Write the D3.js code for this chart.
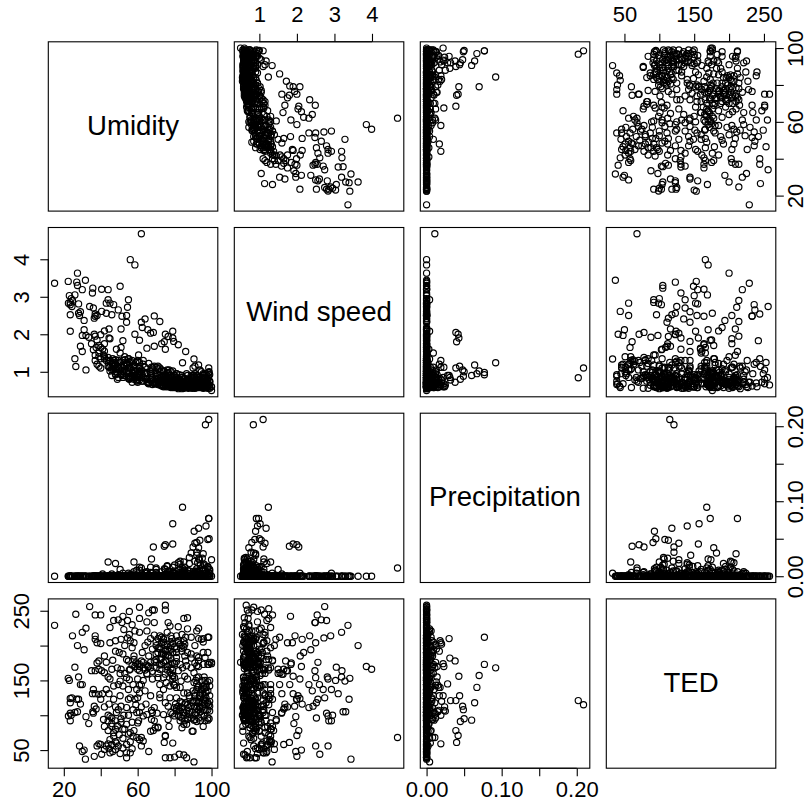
<!DOCTYPE html>
<html>
<head>
<meta charset="utf-8">
<script src="https://cdn.jsdelivr.net/npm/d3@7"></script>
<style>
  html, body { margin: 0; padding: 0; background: #fff; overflow: hidden; }
  text { font-family: "Liberation Sans", Arial, sans-serif; fill: #000; }
</style>
</head>
<body>
<svg id="chart" width="804" height="809"></svg>
<script>
const labels = ["Umidity", "Wind speed", "Precipitation", "TED"]

// values, one row of ten per line, same order in all four arrays
const umidity = [
  15,22.4,23,26,28,29,30,23.5,24.4,27,
  28,23.5,22.5,23.5,26,27.4,23.5,24,26.5,24.7,
  27.4,30,28.5,30,29,31,32,34,37,40,
  37,37,38,40,39,38,35,37,39,31,
  31.7,32,33.5,35.5,37,39,40,36.5,37.5,36,
  35.7,36.5,38,39,40.5,36,46.5,45,47,49.5,
  45,48,42,43,46.5,40.5,42,44,46,49,
  45,47,49.5,41,44.5,47,44.5,42,48,49.5,
  41.5,44,46,48,42,46,48,45,40,42,
  43,46,45,48,49.5,48.5,44,47,50,43,
  52,55.5,51.5,54.5,52.5,58.5,55.5,54.5,56,57,
  51,52,54,56,58.5,60,51,54,50.5,55.5,
  57.5,52,55,59.5,55,56,58.5,51,54,57.5,
  59.5,60.5,54,52,56,57.5,59.5,52,54,54,
  57,56,53,58,50.5,51,55,53,59,57,
  61,61,66,68,69,65,69,65,61,63,
  61,65.5,67,69,61,60,65,68,62,61,
  67,64.5,62,69,63,61,68,69,65,67.5,
  62,61,63,62,66,67,69.5,71,60,64,
  62.5,65.5,69,64,66,68,63,70,67,60,
  75,75,76.5,77.5,72,74,76,78,73,76,
  78,71,74,77,79,70,73,75,78,72,
  75,77.5,71,74,79,72,75.5,77.5,79.5,72,
  77.5,75,76.5,74,76.5,78,77,75,79,75,
  77.5,71,70.5,72,74,76,78,73,71,79,
  72,74,76,78,70,73,75,77,79,71,
  85,87,82,87,81,84,86,82,85,89,
  81,84,87,81,85.5,89,83,86.5,82,85.5,
  80,83.5,87,81,85,87,81,84,80,82,
  84,85.5,87.5,89,81,83,85,86.5,88,89.5,
  82,80,84,85.5,87,85,86.5,84,89.5,80,
  82.5,85,86.5,90.5,83,88,81,86,84,89,
  93,92,98,93,95.5,94.5,91,95.5,98,93,
  96.5,99,100,92,95.5,98,90.5,92,90.5,93,
  95.5,99,92,94.5,97,91,96.5,93,95.5,98,
  91,93.5,96,99,97,92,94.5,98,93,95.5,
  90,94,91,99,96.5,92,95,97,99,91,
  98.5,96.7,84.3,98.5,98.5,79,97,93,90.6,98.7,
  98,93.7,92,91,79,74.4,75,68.5,90,92,
  93,89,95.5,67.5,44,48,58,100,93,83,
  80,50.5,61,75,85.5,96,98,88,65,70,
  44,45,46,47,48,49,50,51,52,53,
  54,55,56,57,58,44.5,46.5,48.5,50.5,52.5,
  55,57,59,61,63,65,67,55.5,58,60,
  62,64,66,68,70,72,74,76,78,80,
  70,72,74,76,78,80,82,84,71,73,
  75,77,79,81,83,85,72.5,74.5,76.5,78.5,
  79,81,83,85,87,89,91,93,95,80.5,
  82.5,84.5,86,88,90,92,94,96,83,87,
  90,92,94,96,98,91.5,93.5,95,97,99,
  91,93,95,97,99,94,96,98,92.5,96.5
]
const windSpeed = [
  3.36,3.41,3.03,3.05,2.81,2.6,1.54,2.08,2.74,3.39,
  2.56,2.52,2.83,2.79,1.35,3.3,2.85,2.95,1.14,2.9,
  3.63,3.19,2.5,1.97,1.68,2.37,1.05,2.74,2.54,1.35,
  1.95,1.44,2.5,1.1,1.7,1.85,1.75,2.48,1.5,2.12,
  3.44,1.97,1.92,3.1,1.3,1.15,1.99,2.43,1.65,1.59,
  3.23,2.0,1.2,1.4,2.61,2.7,1.25,1.3,2.79,2.65,
  1.88,1.2,2.09,2.56,1.35,3.2,1.55,3.19,1.1,1.15,
  2.83,1.05,1.3,1.6,1.9,1.25,2.14,1.75,0.95,1.1,
  1.45,2.92,2.52,1.18,1.35,1.22,0.92,1.28,1.65,1.4,
  2.83,1.05,1.12,1.0,0.85,1.6,1.15,1.3,1.08,1.3,
  1.83,0.95,2.48,1.2,1.0,0.9,1.1,2.72,0.85,1.3,
  2.14,0.9,1.25,3.99,3.85,1.05,1.65,2.5,3.28,0.8,
  1.15,1.02,2.92,0.78,1.35,0.88,2.0,1.12,2.32,0.95,
  0.85,1.45,1.0,1.3,0.82,1.05,0.75,0.95,1.18,0.88,
  0.9,1.1,1.4,0.8,1.25,0.92,1.0,1.15,1.25,0.72,
  0.85,1.25,0.72,1.05,0.68,0.95,2.49,0.8,1.15,0.75,
  1.84,2.12,0.9,0.7,0.95,0.78,1.63,0.85,2.32,1.1,
  2.03,0.82,0.75,1.68,1.0,0.88,1.1,0.72,0.98,0.8,
  4.68,0.78,1.2,1.05,0.68,1.0,0.75,0.9,1.3,2.41,
  2.18,0.7,1.15,0.95,1.22,0.66,0.85,0.7,0.78,1.28,
  0.65,0.8,0.62,0.72,2.34,0.9,0.68,0.6,1.75,0.75,
  0.85,0.72,0.62,1.05,0.7,0.95,0.66,0.78,0.58,1.0,
  1.6,0.68,0.82,0.64,2.08,1.1,0.6,0.9,1.81,0.65,
  0.78,0.88,1.94,1.0,0.62,0.7,0.85,0.72,0.58,0.92,
  0.66,1.15,0.8,0.7,0.85,0.95,1.0,0.76,1.08,0.62,
  0.74,0.6,0.82,0.9,0.88,1.05,0.7,0.6,0.8,0.66,
  0.7,0.6,0.58,0.66,0.75,0.55,1.54,0.62,0.8,0.72,
  0.68,0.58,0.75,0.85,0.6,0.9,0.72,0.62,1.72,0.7,
  0.9,0.6,0.8,0.62,0.56,0.65,0.95,0.72,0.58,0.62,
  0.85,0.6,0.56,0.7,0.78,0.58,0.68,0.95,0.62,0.75,
  0.55,0.66,0.6,0.82,0.58,0.72,0.64,0.9,0.56,0.68,
  0.58,0.62,0.75,1.34,0.65,0.6,0.7,0.58,0.74,0.66,
  0.6,0.72,0.62,0.85,0.58,0.7,0.56,0.8,0.7,0.62,
  0.58,0.75,0.5,0.62,0.95,0.66,0.7,0.58,0.85,0.6,
  0.72,0.56,0.8,0.62,0.68,0.95,0.6,0.7,0.9,0.62,
  0.58,0.66,0.82,0.72,0.6,0.58,1.0,0.7,0.64,0.56,
  0.9,0.62,0.72,0.6,0.76,0.85,0.68,0.58,0.92,0.62,
  1.1,0.84,1.24,0.98,0.92,1.02,0.95,1.18,0.9,1.0,
  0.88,1.05,0.8,1.15,1.9,1.8,2.0,2.05,1.1,0.78,
  0.72,0.85,0.9,1.12,1.3,1.2,1.12,0.6,0.68,0.8,
  0.72,1.5,1.0,0.75,0.65,0.7,0.62,0.6,0.8,0.7,
  1.38,1.02,0.9,1.15,1.32,0.8,1.25,1.05,0.85,1.32,
  1.22,0.82,1.28,0.98,0.86,1.12,1.2,1.08,0.95,1.18,
  1.35,0.85,1.02,0.92,1.3,0.75,0.95,1.25,1.18,0.72,
  0.98,1.12,0.7,0.85,0.68,0.92,1.02,0.68,0.6,0.75,
  1.12,0.66,0.8,1.05,0.72,0.62,0.82,0.7,0.76,0.62,
  0.9,0.74,0.64,0.95,0.7,0.66,0.85,0.7,0.98,0.66,
  0.85,0.6,0.78,0.62,0.9,0.58,0.68,0.78,0.6,0.7,
  0.92,0.58,0.72,0.64,0.8,0.66,0.58,0.7,0.6,0.8,
  0.62,0.9,0.72,0.58,0.8,0.6,0.85,0.66,0.72,0.64,
  0.78,0.58,0.85,0.62,0.74,0.68,0.92,0.56,0.66,0.6
]
const precipitation = [
  0,0,0,0,0,0,0,0,0,0,
  0,0,0,0,0,0,0,0,0,0,
  0,0,0,0,0,0,0,0,0,0,
  0,0,0,0,0,0,0,0,0,0,
  0,0,0,0,0,0,0,0,0,0,
  0,0,0,0,0,0,0,0,0,0,
  0,0,0,0,0,0,0,0,0,0,
  0,0,0,0.003,0,0,0,0,0,0,
  0,0,0,0,0,0,0,0,0,0,
  0,0,0,0,0.002,0,0,0,0,0,
  0,0,0,0,0,0,0.002,0,0,0,
  0,0,0,0,0,0,0,0,0,0,
  0,0,0.004,0,0,0,0,0,0,0,
  0,0,0,0,0,0,0.008,0,0,0,
  0,0,0,0.003,0,0,0,0,0,0,
  0,0,0,0,0,0,0,0.004,0,0,
  0,0,0,0,0,0,0,0,0,0,
  0,0,0.003,0,0,0,0,0,0,0,
  0.011,0,0,0,0,0.005,0,0,0,0,
  0,0,0,0,0.002,0,0,0,0,0,
  0,0,0,0,0,0,0.003,0,0,0,
  0,0,0,0.006,0,0,0,0,0,0,
  0,0,0,0,0.004,0,0,0.002,0,0,
  0,0,0,0,0,0,0,0,0.005,0,
  0,0,0.003,0,0,0,0,0,0,0.006,
  0,0,0,0,0,0,0.003,0,0,0,
  0,0,0,0.004,0,0,0,0,0.007,0,
  0,0.003,0,0,0.008,0,0,0,0,0.005,
  0.004,0,0,0.006,0,0,0.002,0,0,0.003,
  0,0.005,0,0,0,0.009,0,0,0.003,0,
  0,0,0.006,0,0,0.003,0,0,0.002,0,
  0,0,0,0.004,0,0.007,0,0,0.005,0,
  0,0.006,0,0,0.003,0,0,0.008,0,0,
  0,0.004,0,0,0.009,0,0,0.003,0,0.006,
  0,0,0.01,0,0,0.004,0,0,0.007,0,
  0,0.008,0,0,0.004,0,0,0.012,0,0,
  0,0,0.007,0,0,0.005,0,0,0.003,0,
  0.209,0.202,0.092,0.077,0.077,0.07,0.067,0.064,0.06,0.05,
  0.049,0.048,0.045,0.044,0.043,0.04,0.042,0.039,0.039,0.032,
  0.038,0.031,0.03,0.023,0.019,0.017,0.019,0.022,0.023,0.016,
  0.015,0.009,0.012,0.009,0.012,0.016,0.01,0.017,0.006,0.005,
  0,0,0.003,0,0,0,0,0,0.004,0,
  0,0,0,0,0.006,0,0,0,0,0,
  0,0,0,0.008,0,0,0.012,0,0,0,
  0,0.005,0,0,0.011,0,0,0.014,0,0,
  0.009,0,0,0.013,0,0,0.018,0,0,0.006,
  0,0.007,0,0,0.02,0,0,0.01,0,0,
  0.012,0,0,0.019,0,0,0.006,0,0.024,0,
  0,0.01,0,0.025,0,0,0.015,0,0,0.008,
  0,0.028,0,0,0.013,0,0.022,0,0,0.009,
  0.02,0,0.011,0,0.007,0,0.014,0,0.018,0
]
const ted = [
  229,153,150,169,155,144,144,124,125,123,
  123,118,99,103,104,105,92,100,245,214,
  200,219,56,48,116,194,225,256,244,244,
  214,209,204,203,178,175,164,164,166,50,
  37,98,88,131,131,130,123,113,109,103,
  105,41,56,59,44,137,253,226,236,237,
  204,207,185,176,179,164,161,155,166,168,
  152,142,144,131,131,123,116,112,112,108,
  94,92,96,92,84,84,80,65,58,51,
  56,58,46,51,56,104,100,70,190,137,
  242,249,233,236,223,221,216,211,207,197,
  209,188,180,166,170,166,166,154,149,151,
  144,142,137,137,123,125,123,113,111,108,
  104,92,87,80,75,70,68,53,46,39,
  52,46,200,185,128,95,100,160,115,230,
  255,239,247,251,251,234,233,221,219,176,
  173,170,168,178,164,152,159,152,144,132,
  128,116,112,111,99,104,104,92,101,94,
  68,65,63,56,48,77,82,83,89,135,
  190,205,215,200,185,195,150,200,210,125,
  258,251,233,228,214,209,219,214,204,202,
  200,190,188,185,190,176,173,178,173,166,
  159,161,154,154,152,144,147,142,144,125,
  125,118,113,101,94,104,84,70,60,39,
  39,82,103,130,137,165,195,188,160,175,
  195,205,170,182,188,182,192,172,165,210,
  239,240,227,224,214,216,212,204,207,212,
  195,192,190,183,185,188,173,171,164,156,
  154,149,152,140,132,132,125,118,111,113,
  111,116,111,113,106,106,104,106,101,104,
  100,99,96,92,96,87,87,82,77,40,
  44,43,39,33,120,125,177,178,200,168,
  225,221,212,210,205,209,200,190,190,183,
  183,176,176,171,173,173,161,154,147,142,
  142,142,137,137,140,132,128,120,123,118,
  113,111,116,113,108,104,101,96,96,84,
  77,92,94,106,92,185,150,125,150,175,
  115,121,168,173,212,157,140,118,93,95,
  108,113,91,128,156,61,71,78,121,121,
  178,182,210,107,59,192,204,174,170,140,
  143,160,143,194,202,107,93,128,160,180,
  78,98,88,75,62,85,72,90,67,80,
  58,73,62,90,78,52,48,60,45,100,
  178,172,175,170,168,172,176,165,180,174,
  178,165,170,163,168,172,176,170,167,174,
  205,198,210,195,205,198,207,196,196,212,
  185,192,203,190,202,198,180,200,186,210,
  102,110,98,100,115,96,100,108,112,116,
  108,104,118,106,118,110,105,99,92,94,
  135,145,132,138,148,150,128,130,133,128,
  120,155,118,145,120,125,155,135,140,150
]

const columns = [umidity, windSpeed, precipitation, ted]
const tickValues = [
  [20, 40, 60, 80, 100],
  [1, 2, 3, 4],
  [0, 0.05, 0.1, 0.15, 0.2],
  [50, 100, 150, 200, 250]
]
const tickLabels = [
  { 20: "20", 60: "60", 100: "100" },
  { 1: "1", 2: "2", 3: "3", 4: "4" },
  { 0: "0.00", 0.1: "0.10", 0.2: "0.20" },
  { 50: "50", 150: "150", 250: "250" }
]

const cellW = 169.5, cellH = 169.3
const cellX = i => 48.3 + i * 186
const cellY = i => 41.8 + i * 185.7

// R style limits, range plus 4% each side
const limits = columns.map(c => {
  const [lo, hi] = d3.extent(c)
  const pad = (hi - lo) * 0.04
  return [lo - pad, hi + pad]
})
const xScales = limits.map(d => d3.scaleLinear().domain(d).range([0, cellW]))
const yScales = limits.map(d => d3.scaleLinear().domain(d).range([cellH, 0]))

const svg = d3.select("#chart")

d3.range(4).forEach(row => {
  d3.range(4).forEach(col => {
    const g = svg.append("g")
      .attr("transform", `translate(${cellX(col)},${cellY(row)})`)

    if (row === col) {
      g.append("text")
        .attr("x", cellW / 2)
        .attr("y", cellH / 2 - 1.5)
        .attr("dy", "0.36em")
        .attr("text-anchor", "middle")
        .style("font-size", "27.6px")
        .text(labels[row])
    } else {
      g.selectAll("circle")
        .data(d3.range(umidity.length))
        .enter()
        .append("circle")
        .attr("cx", i => xScales[col](columns[col][i]))
        .attr("cy", i => yScales[row](columns[row][i]))
        .attr("r", 3.1)
        .attr("fill", "none")
        .attr("stroke", "#000")
        .attr("stroke-width", 1.15)
    }

    g.append("rect")
      .attr("width", cellW)
      .attr("height", cellH)
      .attr("fill", "none")
      .attr("stroke", "#000")
      .attr("stroke-width", 1.1)
  })
})

function drawAxis(axisFn, scale, index, translate, rotated, textX, textY) {
  const axis = axisFn(scale)
    .tickValues(tickValues[index])
    .tickSize(8)
    .tickSizeOuter(0)
    .tickFormat(d => tickLabels[index][d] || "")
  const g = svg.append("g").attr("transform", translate).call(axis)
  g.select(".domain").remove()
  g.selectAll("line").attr("stroke", "#000").attr("stroke-width", 1.1)

  // axis line only runs between the first and last tick
  const ends = d3.extent(tickValues[index]).map(scale)
  const line = g.append("line").attr("stroke", "#000").attr("stroke-width", 1.1)
  if (rotated) line.attr("y1", ends[0]).attr("y2", ends[1])
  else line.attr("x1", ends[0]).attr("x2", ends[1])

  g.selectAll("text")
    .style("font-size", "22px")
    .attr("text-anchor", "middle")
    .attr("dy", 0)
    .attr("x", null)
    .attr("y", null)
    .attr("transform", rotated ? `translate(${textX},0) rotate(-90)` : `translate(0,${textY})`)
}

// outer axes alternate between the sides, like pairs() does
drawAxis(d3.axisBottom, xScales[0], 0, `translate(${cellX(0)},${cellY(3) + cellH})`, false, 0, 29)
drawAxis(d3.axisBottom, xScales[2], 2, `translate(${cellX(2)},${cellY(3) + cellH})`, false, 0, 29)
drawAxis(d3.axisTop, xScales[1], 1, `translate(${cellX(1)},${cellY(0)})`, false, 0, -19.5)
drawAxis(d3.axisTop, xScales[3], 3, `translate(${cellX(3)},${cellY(0)})`, false, 0, -19.5)
drawAxis(d3.axisLeft, yScales[1], 1, `translate(${cellX(0)},${cellY(1)})`, true, -19.5, 0)
drawAxis(d3.axisLeft, yScales[3], 3, `translate(${cellX(0)},${cellY(3)})`, true, -19.5, 0)
drawAxis(d3.axisRight, yScales[0], 0, `translate(${cellX(3) + cellW},${cellY(0)})`, true, 27.5, 0)
drawAxis(d3.axisRight, yScales[2], 2, `translate(${cellX(3) + cellW},${cellY(2)})`, true, 27.5, 0)
</script>
</body>
</html>
